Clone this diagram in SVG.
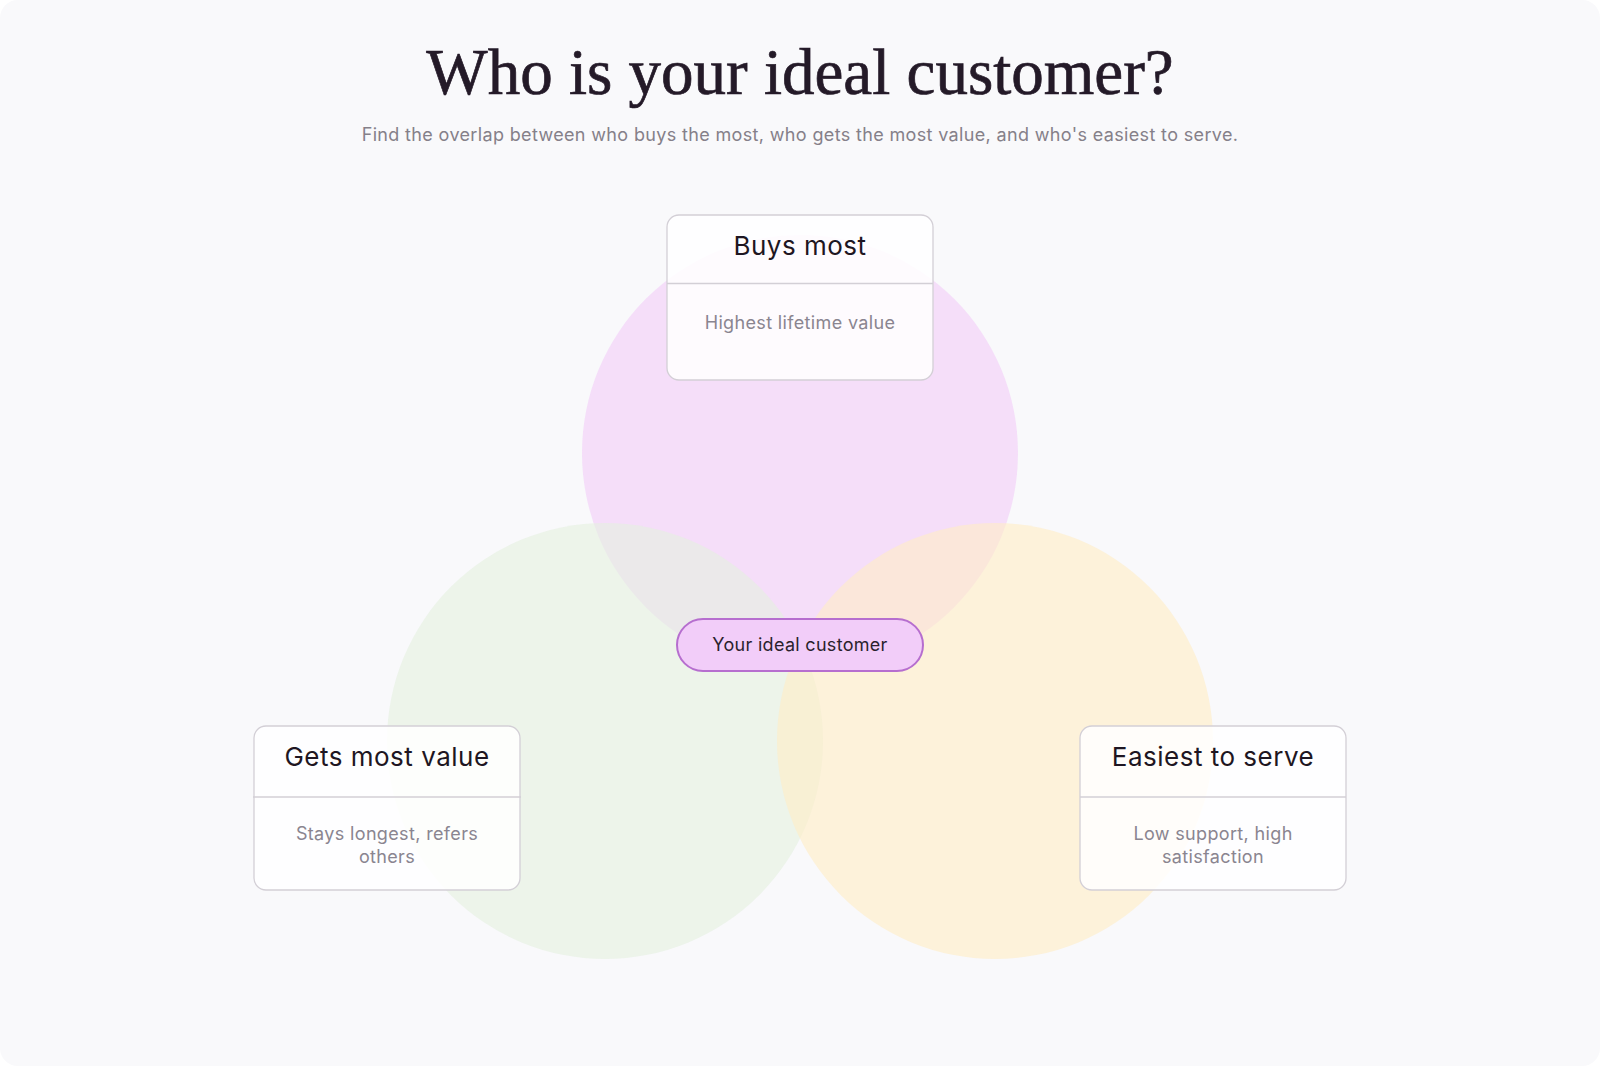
<svg xmlns="http://www.w3.org/2000/svg" width="1600" height="1066" viewBox="0 0 1600 1066">
<style>
.title{font-family:"Liberation Serif","DejaVu Serif",serif;font-size:65px;fill:#241a28;stroke:#241a28;stroke-width:0.7;text-anchor:middle}
.sub{font-family:Inter,"Liberation Sans",sans-serif;font-size:18px;letter-spacing:0.35px;fill:#858089;text-anchor:middle}
.card{fill:#ffffff;fill-opacity:0.86;stroke:#d3cfd6;stroke-width:1.3}
.div{stroke:#d3cfd6;stroke-width:1.3}
.ch{font-family:Inter,"Liberation Sans",sans-serif;font-size:26px;letter-spacing:0.5px;fill:#1e1622;text-anchor:middle}
.cd{font-family:Inter,"Liberation Sans",sans-serif;font-size:18px;letter-spacing:0.35px;fill:#8a8590;text-anchor:middle}
.pill{fill:#f2cdf9;stroke:#b66ecf;stroke-width:2}
.pt{font-family:Inter,"Liberation Sans",sans-serif;font-size:18px;letter-spacing:0.3px;fill:#2a1f2d;text-anchor:middle}
</style>
<rect x="0" y="0" width="1600" height="1066" fill="#ffffff"/>
<rect x="0" y="0" width="1600" height="1066" rx="18" fill="#f9f9fb"/>
<text class="title" x="800" y="94">Who is your ideal customer?</text>
<text class="sub" x="800" y="141">Find the overlap between who buys the most, who gets the most value, and who's easiest to serve.</text>
<g id="circles">
<circle cx="800" cy="453" r="218" fill="#f2ccf8" fill-opacity="0.6"/>
<circle cx="605" cy="741" r="218" fill="#e5f0e0" fill-opacity="0.6"/>
<circle cx="995" cy="741" r="218" fill="#ffecc4" fill-opacity="0.6"/>
</g>
<g id="connectors"></g>
<g id="node-buys">
<rect class="card" x="667" y="215" width="266" height="165" rx="12"/>
<line class="div" x1="667" y1="283.5" x2="933" y2="283.5"/>
<text class="ch" x="800" y="255">Buys most</text>
<text class="cd" x="800" y="329">Highest lifetime value</text>
</g>
<g id="node-value">
<rect class="card" x="254" y="726" width="266" height="164" rx="12"/>
<line class="div" x1="253" y1="797" x2="521" y2="797"/>
<text class="ch" x="387" y="766">Gets most value</text>
<text class="cd" x="387" y="840">Stays longest, refers</text>
<text class="cd" x="387" y="863">others</text>
</g>
<g id="node-serve">
<rect class="card" x="1080" y="726" width="266" height="164" rx="12"/>
<line class="div" x1="1080" y1="797" x2="1346" y2="797"/>
<text class="ch" x="1213" y="766">Easiest to serve</text>
<text class="cd" x="1213" y="840">Low support, high</text>
<text class="cd" x="1213" y="863">satisfaction</text>
</g>
<g id="node-ideal">
<rect class="pill" x="677" y="619" width="246" height="52" rx="26"/>
<text class="pt" x="800" y="651">Your ideal customer</text>
</g>
</svg>
